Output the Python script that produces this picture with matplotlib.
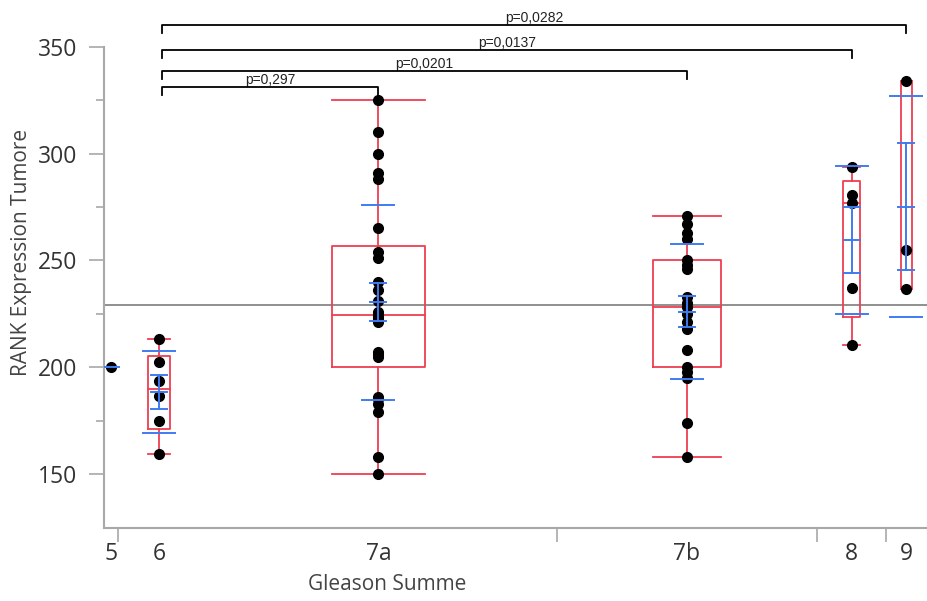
import matplotlib.pyplot as plt
import numpy as np

# RANK expression in tumour tissue, grouped by Gleason sum
groups = ["5", "6", "7a", "7b", "8", "9"]
rank_5 = [200.0]
rank_6 = [159.5, 175, 186.5, 193.5, 202.5, 213]
rank_7a = [150, 158, 179, 183, 185, 186, 205, 206, 207, 221, 222, 223, 224,
           225, 226, 231, 236, 240, 251, 254, 265, 288, 291, 300, 310, 325]
rank_7b = [158, 174, 195, 198, 200, 208, 218, 221, 225, 228, 230, 233, 246,
           248, 250, 260, 263, 267, 271]
rank_8 = [210.3, 237, 277, 280.5, 293.6]
rank_9 = [236.6, 255, 333.9]
values = [rank_5, rank_6, rank_7a, rank_7b, rank_8, rank_9]

# pairwise tests against Gleason 6
pairs = [("6", "7a"), ("6", "7b"), ("6", "8"), ("6", "9")]
p_labels = ["p=0,297", "p=0,0201", "p=0,0137", "p=0,0282"]

red = "#ee3e52"
blue = "#3f7bf0"
axis_grey = "#a8a8a8"
text_col = "#333333"

plt.rcParams["font.family"] = ["Open Sans", "DejaVu Sans"]

fig = plt.figure(figsize=(9.27, 6.01), dpi=100)
ax = fig.add_axes([104 / 927, 73 / 601, 823 / 927, 481 / 601])

# each group gets a slot on the x axis as wide as its sample size
counts = np.array([len(v) for v in values])
edges = np.concatenate([[0], np.cumsum(counts)])
centres = (edges[:-1] + edges[1:]) / 2
px = 823 / edges[-1]  # pixels per x unit

all_vals = np.concatenate(values)
ax.axhline(all_vals.mean(), color="#8f8f8f", lw=1.4, zorder=1)

for c, n, v in zip(centres, counts, values):
    v = np.array(v, dtype=float)
    m = v.mean()
    ax.plot(np.full(len(v), c), v, "o", color="black", ms=7, zorder=3)
    if n == 1:
        ax.plot([c - 8 / px, c + 8 / px], [m, m], color=blue, lw=1.4, zorder=4)
        continue
    q1, med, q3 = np.quantile(v, [0.25, 0.5, 0.75], method="weibull")
    iqr = q3 - q1
    lo = v[v >= q1 - 1.5 * iqr].min()
    hi = v[v <= q3 + 1.5 * iqr].max()
    hw = n * 0.13
    # box, median and whiskers
    ax.plot([c - hw, c + hw, c + hw, c - hw, c - hw], [q1, q1, q3, q3, q1],
            color=red, lw=1.3, zorder=2)
    ax.plot([c - hw, c + hw], [med, med], color=red, lw=1.3, zorder=2)
    ax.plot([c, c], [q3, hi], color=red, lw=1.3, zorder=2)
    ax.plot([c, c], [lo, q1], color=red, lw=1.3, zorder=2)
    for w in (lo, hi):
        ax.plot([c - hw, c + hw], [w, w], color=red, lw=1.3, zorder=2)
    # mean, standard error and standard deviation
    sd = v.std(ddof=1)
    se = sd / np.sqrt(n)
    for y in (m - sd, m + sd):
        ax.plot([c - 16 / px, c + 16 / px], [y, y], color=blue, lw=1.4, zorder=4)
    for y in (m - se, m, m + se):
        ax.plot([c - 8 / px, c + 8 / px], [y, y], color=blue, lw=1.4, zorder=4)
    ax.plot([c, c], [m - se, m + se], color=blue, lw=1.4, zorder=4)

# significance brackets above the groups
levels = [331.2, 338.7, 348.6, 360.3]
drop = 3.8
for (a, b), lab, y in zip(pairs, p_labels, levels):
    xa = centres[groups.index(a)] + 3 / px
    xb = centres[groups.index(b)]
    ax.plot([xa, xa, xb, xb], [y - drop, y, y, y - drop], color="black",
            lw=1.3, clip_on=False, zorder=5)
    ax.text((xa + xb) / 2, y + 0.2, lab, ha="center", va="bottom",
            fontsize=10, family=["Liberation Sans", "DejaVu Sans"],
            color="#222222", clip_on=False)

ax.set_xlim(edges[0], edges[-1])
ax.set_ylim(124.7, 350)
ax.set_yticks([150, 200, 250, 300, 350])
ax.set_yticks([175, 225, 275, 325], minor=True)

# slot boundaries as ticks, group names centred in each slot
bounds = [edges[1], edges[3], edges[4], edges[5]]
ax.set_xticks(bounds)
ax.set_xticklabels([])
ax.set_xticks(centres, minor=True)
ax.set_xticklabels(groups, minor=True)
ax.tick_params(axis="x", which="major", length=10, width=1.2, color=axis_grey)
ax.tick_params(axis="x", which="minor", length=0, pad=10, labelsize=16.5,
               labelcolor=text_col)
ax.tick_params(axis="y", which="major", length=11, width=1.2, color=axis_grey,
               pad=8, labelsize=16.5, labelcolor=text_col)
ax.tick_params(axis="y", which="minor", length=6, width=1.2, color=axis_grey)

for side in ("top", "right"):
    ax.spines[side].set_visible(False)
for side in ("left", "bottom"):
    ax.spines[side].set_color(axis_grey)
    ax.spines[side].set_linewidth(1.5)

fig.text(22 / 927, 1 - 252 / 601, "RANK Expression Tumore", rotation=90,
         ha="center", va="center", fontsize=15, color="#444444")
fig.text(387 / 927, 1 - 585 / 601, "Gleason Summe", ha="center", va="center",
         fontsize=15, color="#444444")

fig.savefig("out.png", dpi=100)
